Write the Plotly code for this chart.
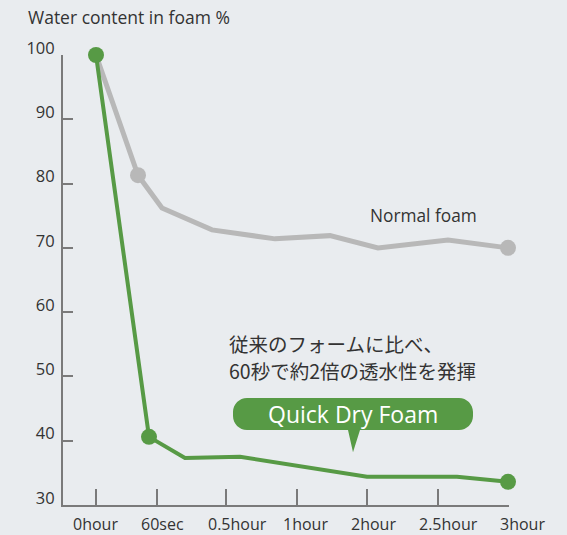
import plotly.graph_objects as go

# ---- data (x positions along the time axis, y = water content %) ----
tick_labels = ["0hour", "60sec", "0.5hour", "1hour", "2hour", "2.5hour", "3hour"]
tick_pos = [33, 94, 163, 234, 304, 375, 446]
label_pos = [32, 99, 174, 242, 310, 385, 459]

normal_x = [33, 75, 99, 149, 212, 267, 315, 385, 445]
normal_y = [100, 81.3, 76.2, 72.8, 71.4, 71.9, 70.0, 71.2, 70.0]
normal_marker = [0, 16, 0, 0, 0, 0, 0, 0, 16]

quick_x = [33, 86, 122, 177, 304, 394, 445]
quick_y = [100, 40.6, 37.3, 37.5, 34.4, 34.4, 33.6]
quick_marker = [16, 16, 0, 0, 0, 0, 16]

y_ticks = [30, 40, 50, 60, 70, 80, 90, 100]

X_MAX = 446
BG = "#e9ecef"
GRAY = "#b8b8b8"
GREEN = "#579a45"
AXIS = "#7a7a7a"
TXT = "#333333"
FONT = "'Open Sans', Lato, sans-serif"
JP = "'Noto Sans CJK JP', sans-serif"

fig = go.Figure()
fig.add_trace(go.Scatter(x=normal_x, y=normal_y, mode="lines+markers",
                         line=dict(color=GRAY, width=5),
                         marker=dict(size=normal_marker, color=GRAY, opacity=1,
                                     line=dict(width=0)),
                         cliponaxis=False, hoverinfo="skip"))
fig.add_trace(go.Scatter(x=quick_x, y=quick_y, mode="lines+markers",
                         line=dict(color=GREEN, width=4),
                         marker=dict(size=quick_marker, color=GREEN, opacity=1,
                                     line=dict(width=0)),
                         cliponaxis=False, hoverinfo="skip"))

# speech bubble
x0, x1 = 170, 410
yt, yb = 46.64, 41.67
rx, ry = 14, 14 / 6.4286
k = 0.55
tip = 38.2
path = (f"M {x0+rx},{yt} L {x1-rx},{yt} "
        f"C {x1-rx+k*rx},{yt} {x1},{yt-ry+k*ry} {x1},{yt-ry} "
        f"L {x1},{yb+ry} "
        f"C {x1},{yb+ry-k*ry} {x1-rx+k*rx},{yb} {x1-rx},{yb} "
        f"L 297,{yb} L 290,{tip} L 285,{yb} L {x0+rx},{yb} "
        f"C {x0+rx-k*rx},{yb} {x0},{yb+ry-k*ry} {x0},{yb+ry} "
        f"L {x0},{yt-ry} "
        f"C {x0},{yt-ry+k*ry} {x0+rx-k*rx},{yt} {x0+rx},{yt} Z")
fig.add_shape(type="path", path=path, xref="x", yref="y",
              fillcolor=GREEN, line=dict(width=0), layer="above")

annotations = [
    dict(x=290, y=(yt + yb) / 2, xref="x", yref="y", text="Quick Dry Foam",
         showarrow=False, font=dict(family=FONT, size=23, color="white")),
    dict(x=360, y=75.1, xref="x", yref="y", text="Normal foam",
         showarrow=False, font=dict(family=FONT, size=17.3, color=TXT)),
    dict(x=164, y=55.2, xref="x", yref="y", text="従来のフォームに比べ、",
         xanchor="left", showarrow=False, font=dict(family=JP, size=19.5, color=TXT)),
    dict(x=164, y=51.0, xref="x", yref="y", text="60秒で約2倍の透水性を発揮",
         xanchor="left", showarrow=False, font=dict(family=JP, size=19.5, color=TXT)),
]
for lp, lab in zip(label_pos, tick_labels):
    annotations.append(dict(x=lp / X_MAX, y=0, xref="paper", yref="paper", text=lab,
                            xanchor="center", yanchor="top", yshift=-7,
                            borderpad=0, showarrow=False,
                            font=dict(family=FONT, size=16, color=TXT)))

fig.update_layout(
    width=567, height=535,
    margin=dict(l=63, r=58, t=55, b=30),
    paper_bgcolor=BG, plot_bgcolor=BG,
    showlegend=False,
    title=dict(text="Water content in foam %", x=28 / 567, xanchor="left",
               y=1 - 18 / 535, yanchor="middle",
               font=dict(family=FONT, size=17.5, color=TXT)),
    annotations=annotations,
    xaxis=dict(range=[0, X_MAX], tickvals=tick_pos, showticklabels=False,
               ticks="inside", ticklen=16, tickwidth=2, tickcolor=AXIS,
               showline=True, linecolor=AXIS, linewidth=2,
               showgrid=False, zeroline=False, fixedrange=True),
    yaxis=dict(range=[30, 100], tickvals=y_ticks,
               ticks="inside", ticklen=10, tickwidth=2, tickcolor=AXIS,
               showline=True, linecolor=AXIS, linewidth=2,
               showgrid=False, zeroline=False,
               ticklabelstandoff=3, ticklabelshift=-7,
               tickfont=dict(family=FONT, size=16.5, color=TXT)),
)

fig.write_html("out.html", config={"displayModeBar": False},
               post_script="document.body.style.margin='0';document.body.style.padding='0';")
